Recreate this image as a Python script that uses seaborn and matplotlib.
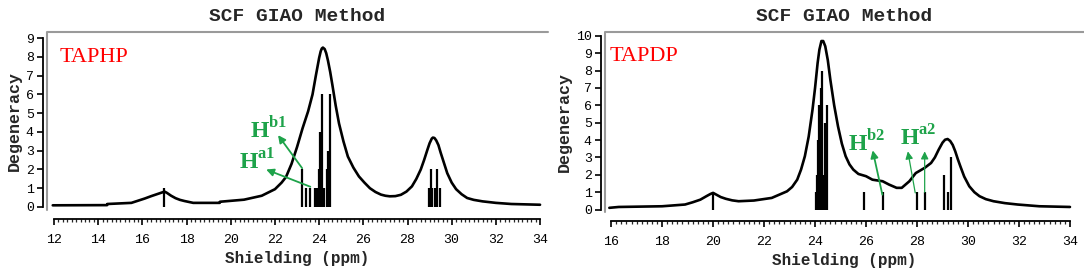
import seaborn as sns
import matplotlib
import matplotlib.pyplot as plt

matplotlib.use("Agg")

# --- TAPHP: broadened curve and stick spectrum
taphp_x = [11.94, 14.4, 14.41, 15.5, 16.1, 16.4, 16.7, 16.9, 17.0, 17.1, 17.3, 17.5, 17.7, 17.9,
           18.3, 19.5, 19.51, 20.6, 21.4, 22.0, 22.3, 22.5, 22.75, 23.0, 23.25, 23.5, 23.7, 23.85,
           24.0, 24.07, 24.12, 24.17, 24.25, 24.32, 24.4, 24.5, 24.6, 24.75, 24.9, 25.1, 25.3,
           25.55, 25.8, 26.05, 26.3, 26.55, 26.8, 27.0, 27.2, 27.45, 27.7, 27.95, 28.2, 28.4,
           28.6, 28.75, 28.9, 29.0, 29.1, 29.15, 29.22, 29.3, 29.4, 29.5, 29.65, 29.8, 30.0,
           30.2, 30.45, 30.7, 31.0, 31.4, 32.0, 32.7, 34.0]
taphp_y = [0.09, 0.1, 0.16, 0.22, 0.45, 0.58, 0.7, 0.78, 0.82, 0.76, 0.6, 0.47, 0.38, 0.32,
           0.22, 0.22, 0.28, 0.39, 0.6, 0.95, 1.3, 1.6, 2.3, 3.2, 4.2, 5.1, 6.0, 7.0,
           7.95, 8.3, 8.45, 8.5, 8.42, 8.2, 7.8, 7.2, 6.5, 5.4, 4.45, 3.5, 2.69,
           2.1, 1.63, 1.3, 1.0, 0.8, 0.66, 0.6, 0.57, 0.58, 0.65, 0.82, 1.1, 1.5,
           2.0, 2.5, 3.05, 3.4, 3.65, 3.7, 3.68, 3.55, 3.3, 2.9, 2.35, 1.8, 1.3,
           0.95, 0.68, 0.48, 0.38, 0.3, 0.22, 0.16, 0.12]
taphp_sticks = [16.99, 23.23, 23.39, 23.58, 23.81, 23.9, 24.01, 24.06, 24.14, 24.2, 24.37, 24.42, 24.5,
                28.99, 29.06, 29.12, 29.26, 29.32, 29.49]
taphp_deg = [1, 2, 1, 1, 1, 1, 2, 4, 6, 1, 2, 3, 6,
             1, 2, 1, 1, 2, 1]

# --- TAPDP
tapdp_x = [15.93, 16.3, 18.0, 18.9, 19.2, 19.5, 19.75, 19.9, 20.0, 20.1, 20.3, 20.5, 20.75, 21.0,
           21.6, 22.3, 22.9, 23.1, 23.3, 23.45, 23.6, 23.75, 23.9, 24.0, 24.1, 24.17, 24.25,
           24.32, 24.4, 24.5, 24.6, 24.75, 24.9, 25.05, 25.2, 25.35, 25.5, 25.7, 26.0, 26.25,
           26.65, 26.9, 27.2, 27.4, 27.7, 27.95, 28.3, 28.55, 28.7, 28.85, 29.0, 29.1, 29.2,
           29.3, 29.4, 29.5, 29.6, 29.7, 29.85, 30.05, 30.25, 30.45, 30.7, 31.0, 31.45, 31.95,
           32.8, 34.0]
tapdp_y = [0.1, 0.15, 0.19, 0.29, 0.42, 0.57, 0.78, 0.9, 0.96, 0.88, 0.72, 0.62, 0.53, 0.48,
           0.52, 0.67, 1.05, 1.3, 1.72, 2.3, 3.07, 4.2, 5.75, 7.0, 8.43, 9.2, 9.7,
           9.7, 9.4, 8.6, 7.47, 6.0, 4.79, 3.8, 3.07, 2.6, 2.3, 2.05, 1.92, 1.72,
           1.63, 1.44, 1.25, 1.25, 1.63, 2.1, 2.4, 2.68, 3.0, 3.45, 3.85, 4.02, 4.06,
           3.95, 3.72, 3.35, 2.9, 2.49, 1.9, 1.34, 1.0, 0.77, 0.6, 0.48, 0.37, 0.29,
           0.19, 0.15]
tapdp_sticks = [20.0, 24.02, 24.08, 24.12, 24.17, 24.22, 24.28, 24.33, 24.38, 24.45,
                25.92, 26.67, 27.98, 28.3, 29.04, 29.22, 29.32]
tapdp_deg = [1, 1, 2, 4, 6, 7, 8, 2, 5, 6,
             1, 1, 1, 1, 2, 1, 3]

sns.set_style("white")
plt.rcParams["font.family"] = ["Liberation Mono", "DejaVu Sans"]
plt.rcParams["mathtext.fontset"] = "custom"
plt.rcParams["mathtext.rm"] = "Liberation Serif:bold"
plt.rcParams["mathtext.bf"] = "Liberation Serif:bold"

GREEN = "#1ea34a"
GRAY = "#9a9a9a"
W, H = 1084, 272

fig = plt.figure(figsize=(10.84, 2.72), dpi=100)


def panel(box, xlim, ylim, xmax_tick, ymax, cx, cy, sx, sh, name, name_xy):
    l, t, r, b = box
    ax = fig.add_axes([l / W, (H - b) / H, (r - l) / W, (b - t) / H])
    sns.lineplot(x=cx, y=cy, ax=ax, color="black", lw=1.9, sort=True,
                 solid_joinstyle="round", solid_capstyle="round")
    ax.vlines(sx, 0, sh, color="black", lw=1.6)
    ax.set_xlim(*xlim)
    ax.set_ylim(*ylim)
    ax.set_facecolor("white")
    for s in ["top", "right"]:
        ax.spines[s].set_visible(False)
    ax.spines["left"].set_position(("outward", 3))
    ax.spines["bottom"].set_position(("outward", 6.5))
    ax.spines["left"].set_bounds(0, ymax)
    ax.spines["bottom"].set_bounds(xmax_tick[0], xmax_tick[1])
    for s in ["left", "bottom"]:
        ax.spines[s].set_color("black")
        ax.spines[s].set_linewidth(1.3)
    # gray frame (left + top)
    ax.plot([0, 0, 1], [0, 1, 1], transform=ax.transAxes, color=GRAY, lw=1.5, clip_on=False)
    ax.set_xticks(range(xmax_tick[0], xmax_tick[1] + 1, 2))
    ax.set_xticks([xmax_tick[0] + 0.2 * i for i in range(int((xmax_tick[1] - xmax_tick[0]) / 0.2) + 1)],
                  minor=True)
    ax.set_yticks(range(0, ymax + 1))
    ax.tick_params(axis="both", which="major", direction="out", length=4.5, width=1.2,
                   labelsize=9.5, colors="black", left=True, bottom=True)
    ax.tick_params(axis="x", which="major", pad=6)
    ax.tick_params(axis="y", which="major", pad=2)
    ax.tick_params(axis="x", which="minor", direction="out", length=2.2, width=0.9, bottom=True)
    ax.set_xlabel("Shielding (ppm)", fontsize=11.5, fontweight="bold", labelpad=4)
    ax.set_ylabel("Degeneracy", fontsize=12, fontweight="bold", labelpad=3)
    ax.set_title("SCF GIAO Method", fontsize=14, fontweight="bold", pad=8)
    ax.text(name_xy[0], name_xy[1], name, color="red", fontsize=16,
            family="Liberation Serif", va="baseline")
    return ax


ax1 = panel((47, 32, 548, 210), (11.68, 34.36), (-0.16, 9.33), (12, 34), 9,
            taphp_x, taphp_y, taphp_sticks, taphp_deg, "TAPHP", (12.25, 7.72))
ax2 = panel((605, 32, 1084, 212), (15.76, 34.55), (-0.14, 10.22), (16, 34), 10,
            tapdp_x, tapdp_y, tapdp_sticks, tapdp_deg, "TAPDP", (15.93, 8.56))

lab = dict(color=GREEN, fontsize=17, family="Liberation Serif", fontweight="bold", va="baseline")
ax1.text(20.85, 3.69, r"H$^{\rm b1}$", **lab)
ax1.text(20.35, 2.0, r"H$^{\rm a1}$", **lab)
ax2.text(25.31, 3.35, r"H$^{\rm b2}$", **lab)
ax2.text(27.35, 3.7, r"H$^{\rm a2}$", **lab)

arr = dict(arrowstyle="-|>", color=GREEN, lw=1.3, mutation_scale=11, shrinkA=0, shrinkB=0)
ax1.annotate("", xy=(22.14, 3.83), xytext=(23.23, 2.07), arrowprops=arr)
ax1.annotate("", xy=(21.6, 2.0), xytext=(23.6, 1.08), arrowprops=arr)
ax2.annotate("", xy=(26.26, 3.41), xytext=(26.64, 0.86), arrowprops=arr)
thin = dict(arr, lw=0.9)
ax2.annotate("", xy=(27.64, 3.35), xytext=(27.93, 0.96), arrowprops=thin)
ax2.annotate("", xy=(28.3, 3.35), xytext=(28.3, 1.0), arrowprops=thin)

fig.savefig("out.png", dpi=100)
